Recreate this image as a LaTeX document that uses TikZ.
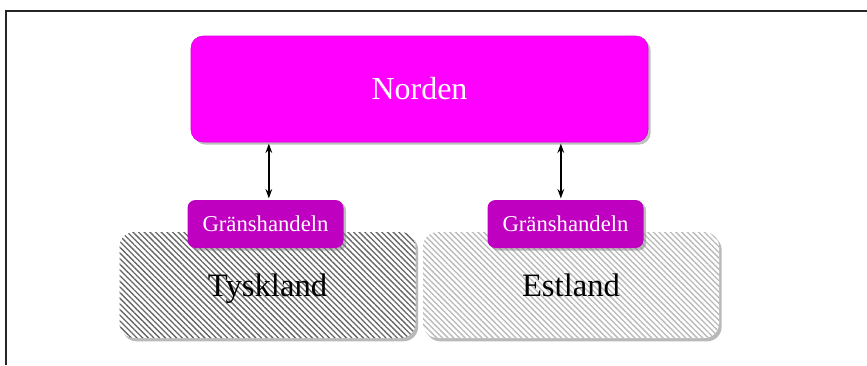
\documentclass[tikz,border=0pt]{standalone}
\usepackage{fontspec}
\setmainfont{Liberation Serif}
\usetikzlibrary{shadows}
\usetikzlibrary{patterns.meta}
\usetikzlibrary{arrows.meta}
\definecolor{nordmag}{RGB}{255,0,255}
\definecolor{granmag}{RGB}{192,0,192}
\tikzset{
    boxn/.style = {rectangle, rounded corners=9pt, fill=nordmag, draw=nordmag!85!black, thin,
                   drop shadow={shadow xshift=2pt, shadow yshift=-2pt, opacity=0.5},
                   minimum width=342.75pt, minimum height=79.5pt, text=white, font=\fontsize{24}{28}\selectfont},
    boxg/.style = {rectangle, rounded corners=6pt, fill=granmag,
                   drop shadow={shadow xshift=2pt, shadow yshift=-2pt, opacity=0.5},
                   minimum width=117pt, minimum height=36pt, text=white, font=\fontsize{17}{20}\selectfont},
    landd/.style = {rectangle, rounded corners=11pt, minimum width=222pt, minimum height=79.5pt,
                    drop shadow={shadow xshift=2pt, shadow yshift=-2.5pt, opacity=0.55},
                    preaction={fill=white}, text height=17pt, text depth=0pt,
                    pattern={Lines[angle=-45,distance=3pt,line width=1pt]}, pattern color=gray!80!black,
                    font=\fontsize{24.5}{28}\selectfont},
    landl/.style = {landd, pattern color=gray!55},
    edgea/.style = {{Stealth[length=7pt,width=5pt]}-{Stealth[length=7pt,width=5pt]}, line width=1pt, black,
                    shorten >=1pt, shorten <=1pt},
}
\begin{document}
\begin{tikzpicture}[x=0.75pt, y=-0.75pt]
  \useasboundingbox (0,0) rectangle (867,365);
  % frame
  \draw[line width=1.5pt, gray!30!black] (6,365) -- (6,11) -- (867,11);

  \node[boxn] (norden) at (419.5,89) {Norden};

  \node[landd] (tysk) at (267.5,285) {Tyskland};
  \node[landl] (est) at (571,285) {Estland};

  \node[boxg] (grt) at (265.5,224) {Gränshandeln};
  \node[boxg] (gre) at (565.5,224) {Gränshandeln};

  \draw[edgea] ([xshift=2.5]grt.north) -- ([xshift=2.5]grt.north |- norden.south);
  \draw[edgea] ([xshift=-3.5]gre.north) -- ([xshift=-3.5]gre.north |- norden.south);

\end{tikzpicture}
\end{document}
